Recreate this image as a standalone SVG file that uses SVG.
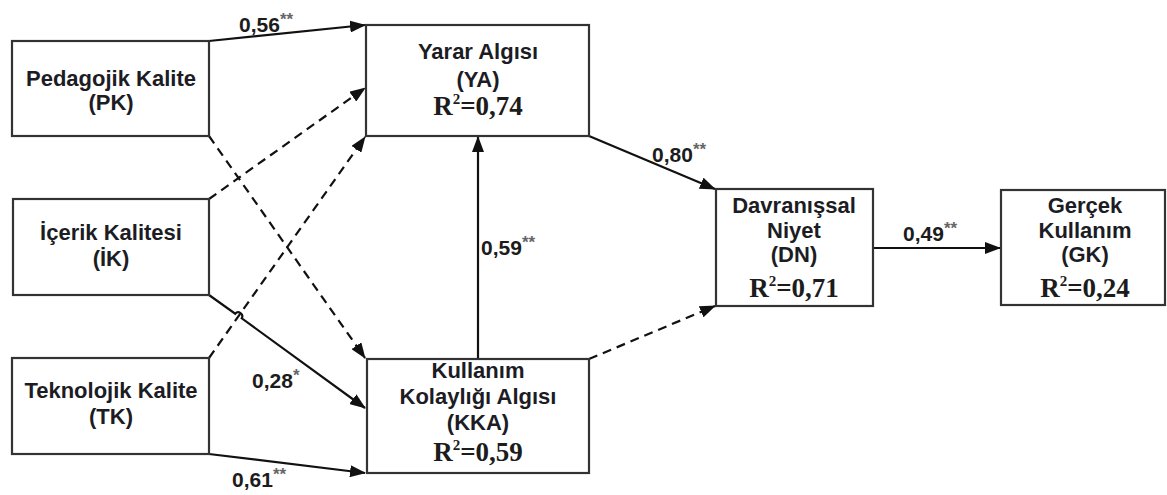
<svg xmlns="http://www.w3.org/2000/svg" width="1167" height="495" viewBox="0 0 1167 495">
<style>
.box{fill:#fff;stroke:#333;stroke-width:2.2}
.t{font-family:"Liberation Sans",Arial,sans-serif;font-weight:bold;font-size:22px;fill:#1c1c24;text-anchor:middle}
.r{font-family:"Liberation Serif","Times New Roman",serif;font-weight:bold;font-size:27px;fill:#1c1c1c;text-anchor:middle}
.lbl{font-family:"Liberation Sans",Arial,sans-serif;font-weight:bold;font-size:21px;fill:#1c1c1c}
.st{font-size:17px;fill:#666}
.c{fill:none;stroke:#111;stroke-width:2.2}
.d{stroke-dasharray:9 6}
</style>
<defs>
<marker id="ah" markerUnits="userSpaceOnUse" markerWidth="16" markerHeight="12" refX="15" refY="6" orient="auto">
<path d="M0,0 L16,6 L0,12 Z" fill="#111"/>
</marker>
</defs>
<rect width="1167" height="495" fill="#fff"/>
<g id="connectors">
<path class="c" d="M209,41 L365,25" marker-end="url(#ah)"/>
<path class="c d" d="M209,136 L365,358" marker-end="url(#ah)"/>
<path class="c d" d="M209,199 L365,88" marker-end="url(#ah)"/>
<path class="c" d="M209,295 L235.2,313.7 A4,4 0 0 1 241.7,318.3 L365,408" marker-end="url(#ah)"/>
<path class="c d" d="M209,358 L365,137" marker-end="url(#ah)"/>
<path class="c" d="M209,454 L365,473" marker-end="url(#ah)"/>
<path class="c" d="M478,359 L478,137" marker-end="url(#ah)"/>
<path class="c" d="M589,136 L715,189" marker-end="url(#ah)"/>
<path class="c d" d="M589,359 L715,306" marker-end="url(#ah)"/>
<path class="c" d="M873,248 L1000,248" marker-end="url(#ah)"/>
<text class="lbl" x="239" y="32">0,56<tspan class="st" dy="-7">**</tspan></text>
<text class="lbl" x="652" y="162">0,80<tspan class="st" dy="-7">**</tspan></text>
<text class="lbl" x="481" y="255">0,59<tspan class="st" dy="-7">**</tspan></text>
<text class="lbl" x="903" y="241">0,49<tspan class="st" dy="-7">**</tspan></text>
<text class="lbl" x="252" y="388">0,28<tspan class="st" dy="-7">*</tspan></text>
<text class="lbl" x="232" y="487">0,61<tspan class="st" dy="-7">**</tspan></text>
</g>
<g id="PK">
<rect class="box" x="12" y="41" width="197" height="95"/>
<text class="t" x="111" y="86">Pedagojik Kalite</text>
<text class="t" x="111" y="110">(PK)</text>
</g>
<g id="IK">
<rect class="box" x="13" y="199" width="196" height="96"/>
<text class="t" x="111" y="240">İçerik Kalitesi</text>
<text class="t" x="111" y="266">(İK)</text>
</g>
<g id="TK">
<rect class="box" x="12" y="358" width="197" height="96"/>
<text class="t" x="111" y="398">Teknolojik Kalite</text>
<text class="t" x="111" y="424">(TK)</text>
</g>
<g id="YA">
<rect class="box" x="366" y="25" width="223" height="111"/>
<text class="t" x="478" y="59">Yarar Algısı</text>
<text class="t" x="478" y="87">(YA)</text>
<text class="r" x="478" y="115">R<tspan font-size="15" dy="-11">2</tspan><tspan dy="11">=0,74</tspan></text>
</g>
<g id="KKA">
<rect class="box" x="367" y="359" width="222" height="114"/>
<text class="t" x="478" y="378">Kullanım</text>
<text class="t" x="478" y="404">Kolaylığı Algısı</text>
<text class="t" x="478" y="430">(KKA)</text>
<text class="r" x="478" y="461">R<tspan font-size="15" dy="-11">2</tspan><tspan dy="11">=0,59</tspan></text>
</g>
<g id="DN">
<rect class="box" x="716" y="189" width="157" height="117"/>
<text class="t" x="794" y="213">Davranışsal</text>
<text class="t" x="794" y="238">Niyet</text>
<text class="t" x="794" y="262">(DN)</text>
<text class="r" x="794" y="297">R<tspan font-size="15" dy="-11">2</tspan><tspan dy="11">=0,71</tspan></text>
</g>
<g id="GK">
<rect class="box" x="1001" y="190" width="164" height="115"/>
<text class="t" x="1085" y="213">Gerçek</text>
<text class="t" x="1085" y="238">Kullanım</text>
<text class="t" x="1085" y="262">(GK)</text>
<text class="r" x="1085" y="297">R<tspan font-size="15" dy="-11">2</tspan><tspan dy="11">=0,24</tspan></text>
</g>
</svg>
